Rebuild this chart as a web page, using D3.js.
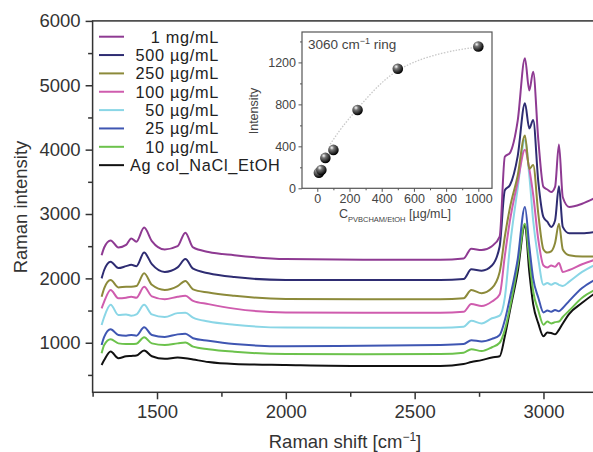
<!DOCTYPE html>
<html><head><meta charset="utf-8">
<script src="https://cdn.jsdelivr.net/npm/d3@7"></script>
<style>body{margin:0;background:#fff;}svg{display:block;font-family:"Liberation Sans",Arial,sans-serif;}</style>
</head><body><svg id="c" width="593" height="452"></svg>
<script>
// ---------- DATA ----------
const shift = [1285,1295,1320,1350,1380,1400,1420,1450,1480,1530,1580,1610,1640,1700,1800,2000,2300,2600,2690,2720,2760,2800,2830,2850,2870,2900,2928,2945,2960,2980,3000,3015,3030,3045,3060,3075,3100,3150,3200];
const s1mg  = [2360,2480,2590,2480,2520,2620,2570,2790,2580,2450,2500,2710,2480,2410,2360,2300,2290,2290,2310,2460,2440,2500,2650,3890,3950,4450,5420,4920,5210,4150,3420,3380,3340,3420,4080,3260,3110,3160,3250];
const s500  = [2000,2130,2260,2160,2190,2210,2190,2400,2220,2100,2170,2300,2150,2080,2020,1975,1975,1975,1990,2140,2120,2200,2500,3370,3450,3900,4720,4330,4460,3500,2950,2880,2800,2900,3430,2800,2700,2700,2720];
const s250  = [1715,1845,1975,1860,1870,1870,1880,2080,1900,1820,1880,1960,1830,1780,1730,1680,1675,1675,1690,1820,1770,1850,2100,2650,3100,3600,4220,3700,3760,3000,2450,2400,2420,2550,2850,2450,2360,2340,2340];
const s100  = [1535,1640,1820,1690,1700,1715,1700,1870,1720,1675,1715,1730,1650,1600,1530,1470,1465,1465,1480,1600,1570,1640,1750,2350,2900,3500,4000,3700,3300,2600,2200,2170,2200,2180,2240,2100,2130,2220,2290];
const s50   = [1275,1400,1590,1430,1440,1420,1440,1590,1440,1400,1460,1465,1390,1330,1280,1235,1233,1233,1250,1340,1300,1380,1420,1700,2500,3400,4150,3600,2900,2300,1900,1930,1900,1930,1900,1880,1950,2100,2210];
const s25   = [965,1090,1210,1120,1110,1120,1110,1240,1120,1090,1130,1140,1070,1030,980,945,955,965,980,1040,1020,1060,1120,1350,1700,2300,3110,2500,2000,1700,1470,1500,1480,1510,1490,1540,1650,1850,1980];
const s10   = [835,965,1055,990,980,980,985,1085,990,965,990,1005,940,900,860,825,820,825,845,900,870,930,1000,1200,1550,2200,2850,2300,1800,1500,1280,1330,1300,1320,1330,1400,1500,1700,1820];
const sAg   = [655,730,865,760,790,795,800,880,790,750,770,760,740,700,670,655,640,640,670,700,730,770,790,1100,1500,2100,2830,2100,1600,1300,1100,1160,1150,1130,1200,1300,1450,1620,1770];
const seriesNames = ["1 mg/mL","500 \u00B5g/mL","250 \u00B5g/mL","100 \u00B5g/mL","50 \u00B5g/mL","25 \u00B5g/mL","10 \u00B5g/mL","Ag col_NaCl_EtOH"];
const seriesColors = ["#8e3a92","#2e2c72","#8c8a3a","#cf5cae","#8ad6e6","#3f56b2","#6cc24c","#111111"];
const seriesValues = [s1mg,s500,s250,s100,s50,s25,s10,sAg];
const xTicks = [1500,2000,2500,3000];
const yTicks = [1000,2000,3000,4000,5000,6000];

// inset
const conc = [10,25,50,100,250,500,1000];
const ringInt = [149,175,290,366,747,1139,1352];
const fitConc = [80,150,250,370,500,680,886,1000];
const fitInt = [420,580,760,970,1140,1256,1327,1345];
const insetXTicks = [0,200,400,600,800,1000];
const insetYTicks = [0,400,800,1200];

// ---------- DRAW ----------
const svg = d3.select("#c");
const axisCol = "#333";
const x = d3.scaleLinear().domain([1250,3200]).range([92.6,595]);
const y = d3.scaleLinear().domain([230,6000]).range([392.3,20.9]);

const line = d3.line().x(d=>x(d[0])).y(d=>y(d[1])).curve(d3.curveMonotoneX);
for (let i = seriesValues.length-1; i>=0; i--) {
  svg.append("path").datum(shift.map((s,j)=>[s,seriesValues[i][j]]))
    .attr("d",line).attr("fill","none").attr("stroke",seriesColors[i])
    .attr("stroke-width",2).attr("stroke-linejoin","round");
}

svg.append("rect").attr("x",92.6).attr("y",20.9).attr("width",595-92.6).attr("height",392.3-20.9)
  .attr("fill","none").attr("stroke",axisCol).attr("stroke-width",1.5);

const xAxis = d3.axisBottom(x).tickValues(xTicks).tickSize(7).tickPadding(6).tickFormat(d3.format("d"));
const gx = svg.append("g").attr("transform","translate(0,392.3)").call(xAxis);
gx.select(".domain").remove();
gx.selectAll("line").attr("stroke",axisCol).attr("stroke-width",1.5);
gx.selectAll("text").attr("font-size",18.5).attr("fill",axisCol).attr("font-family","Liberation Sans, Arial, sans-serif");
const xMinor = d3.axisBottom(x).tickValues([1250,1750,2250,2750]).tickSize(4.5).tickFormat("");
const gxm = svg.append("g").attr("transform","translate(0,392.3)").call(xMinor);
gxm.select(".domain").remove();
gxm.selectAll("line").attr("stroke",axisCol).attr("stroke-width",1.5);

const yAxis = d3.axisLeft(y).tickValues(yTicks).tickSize(7).tickPadding(5).tickFormat(d3.format("d"));
const gy = svg.append("g").attr("transform","translate(92.6,0)").call(yAxis);
gy.select(".domain").remove();
gy.selectAll("line").attr("stroke",axisCol).attr("stroke-width",1.5);
gy.selectAll("text").attr("font-size",18.5).attr("fill",axisCol).attr("font-family","Liberation Sans, Arial, sans-serif");
const yMinor = d3.axisLeft(y).tickValues([500,1500,2500,3500,4500,5500]).tickSize(4.5).tickFormat("");
const gym = svg.append("g").attr("transform","translate(92.6,0)").call(yMinor);
gym.select(".domain").remove();
gym.selectAll("line").attr("stroke",axisCol).attr("stroke-width",1.5);

const xt = svg.append("text").attr("x",345).attr("y",448).attr("text-anchor","middle")
  .attr("font-size",18.5).attr("fill",axisCol);
xt.append("tspan").text("Raman shift [cm");
xt.append("tspan").attr("dy",-7).attr("font-size",12).text("\u22121");
xt.append("tspan").attr("dy",7).text("]");
svg.append("text").attr("transform","translate(27,207) rotate(-90)").attr("text-anchor","middle")
  .attr("font-size",18.5).attr("fill",axisCol).text("Raman intensity");

seriesNames.forEach((n,i)=>{
  const cy = 36.7 + i*18.35;
  svg.append("line").attr("x1",99).attr("x2",124).attr("y1",cy).attr("y2",cy)
    .attr("stroke",seriesColors[i]).attr("stroke-width",2);
  const last = i===seriesNames.length-1;
  svg.append("text").attr("x", last?130:219).attr("y",cy+6)
    .attr("text-anchor", last?"start":"end").attr("font-size",16.3).attr("letter-spacing",0.7)
    .attr("fill","#222").text(n);
});

// ---------- INSET ----------
const ix = d3.scaleLinear().domain([-95,1085]).range([302,492]);
const iy = d3.scaleLinear().domain([0,1490]).range([188.3,32]);
const insetCol = "#555";
svg.append("rect").attr("x",302).attr("y",32).attr("width",190).attr("height",156.3)
  .attr("fill","#fff").attr("stroke",insetCol).attr("stroke-width",1.2);

const gix = svg.append("g").attr("transform","translate(0,188.3)")
  .call(d3.axisBottom(ix).tickValues(insetXTicks).tickSize(3.5).tickPadding(2).tickFormat(d3.format("d")));
gix.select(".domain").remove();
gix.selectAll("line").attr("stroke",insetCol);
gix.selectAll("text").attr("font-size",12.5).attr("fill","#444").attr("font-family","Liberation Sans, Arial, sans-serif");
const gixm = svg.append("g").attr("transform","translate(0,188.3)")
  .call(d3.axisBottom(ix).tickValues([100,300,500,700,900]).tickSize(2).tickFormat(""));
gixm.select(".domain").remove(); gixm.selectAll("line").attr("stroke",insetCol);

const giy = svg.append("g").attr("transform","translate(302,0)")
  .call(d3.axisLeft(iy).tickValues(insetYTicks).tickSize(3.5).tickPadding(2.5).tickFormat(d3.format("d")));
giy.select(".domain").remove();
giy.selectAll("line").attr("stroke",insetCol);
giy.selectAll("text").attr("font-size",12.5).attr("fill","#444").attr("font-family","Liberation Sans, Arial, sans-serif");
const giym = svg.append("g").attr("transform","translate(302,0)")
  .call(d3.axisLeft(iy).tickValues([200,600,1000,1400]).tickSize(2).tickFormat(""));
giym.select(".domain").remove(); giym.selectAll("line").attr("stroke",insetCol);

svg.append("text").attr("transform","translate(258,111) rotate(-90)").attr("text-anchor","middle")
  .attr("font-size",12.5).attr("fill","#444").text("Intensity");
const ixt = svg.append("text").attr("x",339).attr("y",218).attr("font-size",12.5).attr("fill","#444");
ixt.append("tspan").text("C");
ixt.append("tspan").attr("dy",3.5).attr("font-size",7.5).text("PVBCHAM/EtOH");
ixt.append("tspan").attr("dy",-3.5).text(" [\u00B5g/mL]");

const itl = svg.append("text").attr("x",308).attr("y",49).attr("font-size",13.5).attr("fill","#444");
itl.append("tspan").text("3060 cm");
itl.append("tspan").attr("dy",-5).attr("font-size",9).text("\u22121");
itl.append("tspan").attr("dy",5).text(" ring");

svg.append("path").datum(fitConc.map((c,i)=>[c,fitInt[i]]))
  .attr("d", d3.line().x(d=>ix(d[0])).y(d=>iy(d[1])).curve(d3.curveBasis))
  .attr("fill","none").attr("stroke","#c8c8c8").attr("stroke-width",1.3).attr("stroke-dasharray","1.5,1.5");

const defs = svg.append("defs");
const rg = defs.append("radialGradient").attr("id","sph").attr("cx","35%").attr("cy","30%").attr("r","70%");
rg.append("stop").attr("offset","0%").attr("stop-color","#ffffff");
rg.append("stop").attr("offset","30%").attr("stop-color","#777");
rg.append("stop").attr("offset","100%").attr("stop-color","#000");
svg.selectAll(".pt").data(conc.map((c,i)=>[c,ringInt[i]])).enter().append("circle")
  .attr("cx",d=>ix(d[0])).attr("cy",d=>iy(d[1])).attr("r",5.3).attr("fill","url(#sph)");
</script></body></html>
